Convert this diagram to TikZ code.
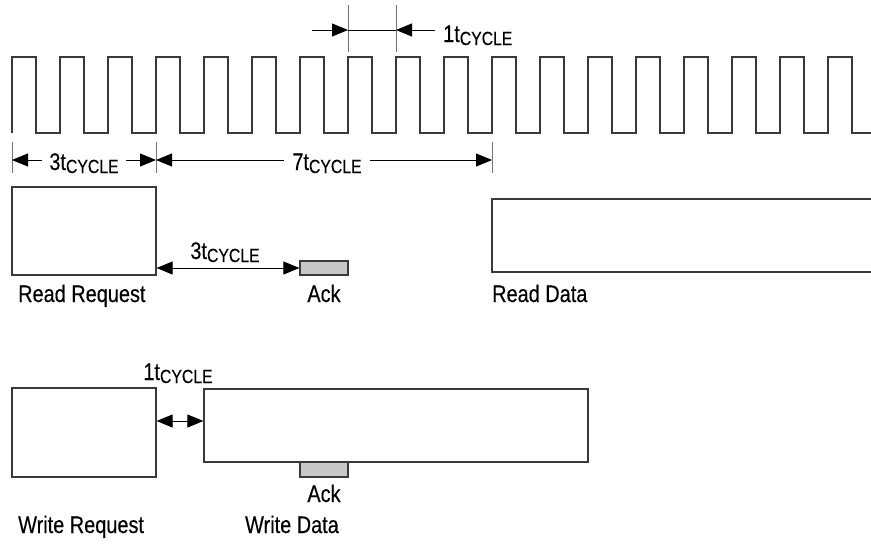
\documentclass[tikz,border=0pt]{standalone}
\usepackage{fontspec}
\setmainfont{Liberation Sans}[FakeStretch=0.83, FakeBold=0.3]
\usetikzlibrary{calc}
\usetikzlibrary{arrows.meta}

\definecolor{ackgray}{HTML}{C8C8C8}
\definecolor{linegray}{HTML}{3A3A3A}
\newcommand{\tcy}{t\raisebox{-3pt}{\fontsize{19}{19}\selectfont CYCLE}}

\tikzset{
  clk/.style={linegray, line width=1.2pt, line join=miter},
  box/.style={draw=linegray, line width=1.2pt, inner sep=0},
  ackbox/.style={box, fill=ackgray},
  tick/.style={black!55, line width=0.9pt},
  dimline/.style={black, line width=0.9pt},
  tip/.style={-{Triangle[length=16pt,width=13pt]}},
  tips/.style={{Triangle[length=16pt,width=13pt]}-{Triangle[length=16pt,width=13pt]}},
  txt/.style={inner sep=0, anchor=base},
  dim/.style={inner ysep=0, inner xsep=7pt, anchor=base}
}

\begin{document}
\begin{tikzpicture}[x=1pt, y=-1pt, font=\fontsize{24}{28}\selectfont]
\useasboundingbox (0,0) rectangle (871,544);

% clock
\draw[clk] (12,133) \foreach \k in {0,...,17} {
  |- ({36+48*\k},57) |- ({min(60+48*\k,871)},133) };

% one cycle
\coordinate (c7) at (348,30);
\coordinate (c8) at (396,30);
\coordinate (c7l) at (312,30);
\foreach \c in {c7,c8}
  \draw[tick] ([yshift=25pt]\c) -- ([yshift=-22pt]\c);
\node[dim, anchor=base west, inner xsep=8pt] (d1) at (435,42) {1\tcy};
\draw[dimline, tip] (c7l) -- (c7);
\draw[dimline] (c7) -- (c8);
\draw[dimline, tip] (d1.west |- c8) -- (c8);

% 3 + 7 cycles
\coordinate (t0) at (12,160);
\coordinate (t3) at (156,160);
\coordinate (t10) at (492,160);
\foreach \c in {t0,t3,t10}
  \draw[tick] ([yshift=18pt]\c) -- ([yshift=-13pt]\c);
\node[dim] (d3) at (84,170) {3\tcy};
\node[dim, inner xsep=8pt] (d7) at (327,170) {7\tcy};
\draw[dimline, tip] (d3.west |- t0) -- (t0);
\draw[dimline, tip] (d3.east |- t3) -- (t3);
\draw[dimline, tip] (d7.west |- t3) -- (t3);
\draw[dimline, tip] (d7.east |- t10) -- (t10);

% read
\node[box, minimum width=144pt, minimum height=88pt] (rreq) at (84,231) {};
\node[ackbox, minimum width=48pt, minimum height=14pt] (rack) at (324,268) {};
\draw[box] (872,199) -| (492,272) -- (872,272);
\coordinate (rdat) at (492,272);
\draw[dimline, tips] (rreq.east |- rack.west) -- (rack.west);
\node[txt] (rlab) at (225,259) {3\tcy};
\node[txt, anchor=base west] (rreqt) at (18,302) {Read Request};
\node[txt] (rackt) at (324,302) {Ack};
\node[txt, anchor=base west] (rdatt) at (rdat |- 0,302) {Read Data};

% write
\node[box, minimum width=144pt, minimum height=89pt] (wreq) at (84,432.5) {};
\node[box, minimum width=384pt, minimum height=73pt] (wdat) at (396,425.5) {};
\node[ackbox, minimum width=48pt, minimum height=15pt] (wack) at (324,469.5) {};
\coordinate (wa) at (180,421);
\draw[dimline, tips] (wa -| wreq.east) -- (wa -| wdat.west);
\node[txt] (wlab) at (178,380) {1\tcy};
\node[txt] (wackt) at (324,502) {Ack};
\node[txt, anchor=base west] (wreqt) at (18,533) {Write Request};
\node[txt] (wdatt) at (292,533) {Write Data};
\end{tikzpicture}
\end{document}
